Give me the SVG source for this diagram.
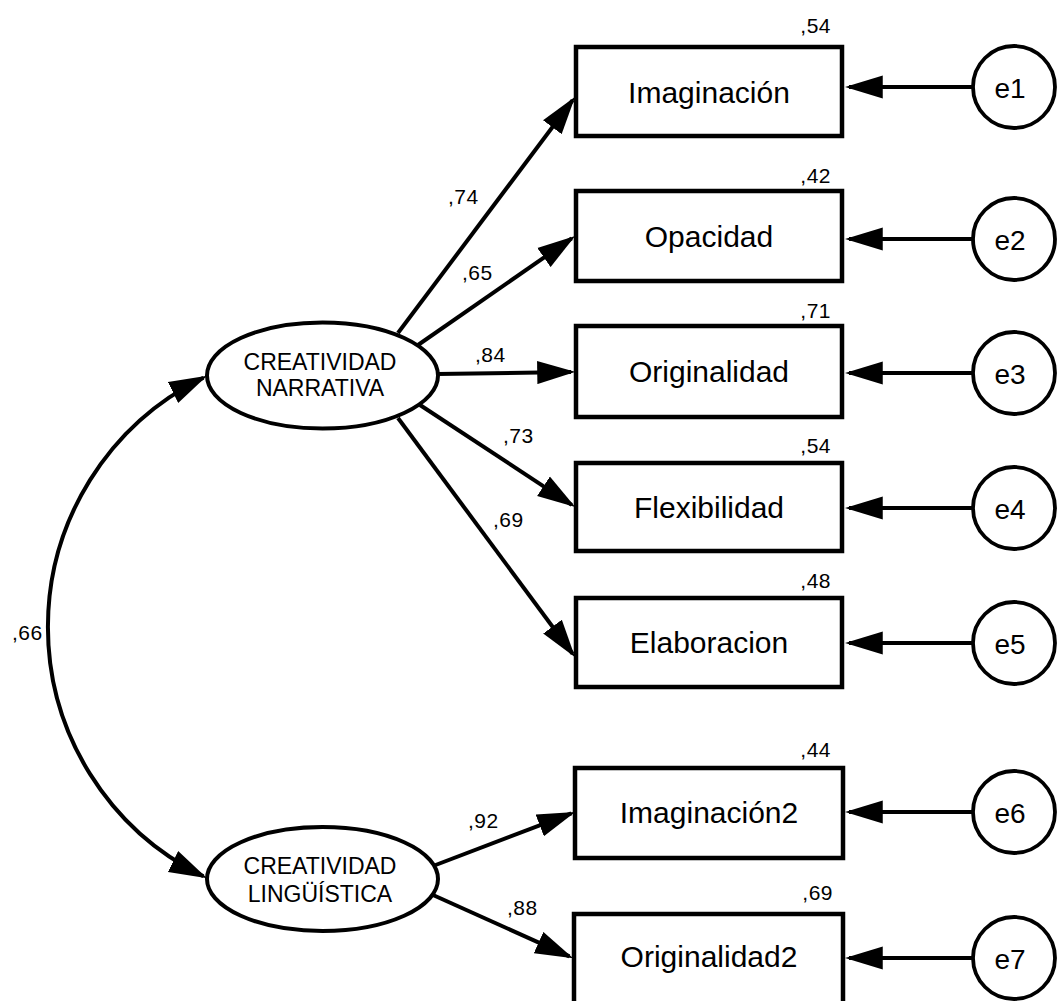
<svg xmlns="http://www.w3.org/2000/svg" width="1057" height="1001" viewBox="0 0 1057 1001">
  <style>
    .box { fill: #fff; stroke: #000; stroke-width: 4.5; }
    .lat { fill: #fff; stroke: #000; stroke-width: 4; }
    .err { fill: #fff; stroke: #000; stroke-width: 3.8; }
    .edge { fill: none; stroke: #000; stroke-width: 4; marker-end: url(#head); }
    .cov { fill: none; stroke: #000; stroke-width: 4; marker-start: url(#head); marker-end: url(#head); }
    text { font-family: "Liberation Sans", Arial, sans-serif; fill: #000; }
    .obs { font-size: 30px; text-anchor: middle; }
    .latt { font-size: 23px; text-anchor: middle; }
    .errt { font-size: 28px; text-anchor: middle; }
    .num { font-size: 21px; letter-spacing: 0.5px; }
    .r2 { font-size: 21px; letter-spacing: 0.5px; text-anchor: end; }
  </style>
  <defs>
    <marker id="head" markerUnits="userSpaceOnUse" markerWidth="38" markerHeight="24" viewBox="0 0 36 22" refX="32" refY="11" orient="auto-start-reverse">
      <path d="M0,0 L36,11 L0,22 z" fill="#000"/>
    </marker>
  </defs>
  <rect width="1057" height="1001" fill="#fff"/>

  <!-- paths, error arrows and covariance -->
  <g id="connectors">
    <path class="cov" d="M203.4,377.7 A277.6,277.6 0 0 0 203.4,876.3"/>
    <line class="edge" x1="398" y1="333" x2="572.6" y2="100.2"/>
    <line class="edge" x1="418" y1="345" x2="571.7" y2="238.3"/>
    <line class="edge" x1="437" y1="374" x2="571" y2="372"/>
    <line class="edge" x1="420" y1="405" x2="571.7" y2="504.8"/>
    <line class="edge" x1="398" y1="418" x2="572.6" y2="653.8"/>
    <line class="edge" x1="433" y1="866" x2="571.3" y2="813.4"/>
    <line class="edge" x1="433" y1="895" x2="569.4" y2="956.4"/>
    <line class="edge" x1="973" y1="87" x2="849" y2="87"/>
    <line class="edge" x1="973" y1="239" x2="849" y2="239"/>
    <line class="edge" x1="973" y1="373" x2="849" y2="373"/>
    <line class="edge" x1="973" y1="508" x2="849" y2="508"/>
    <line class="edge" x1="973" y1="643" x2="849" y2="643"/>
    <line class="edge" x1="973" y1="812" x2="849" y2="812"/>
    <line class="edge" x1="973" y1="958" x2="849" y2="958"/>
    <!-- coefficients -->
    <text class="num" x="448" y="204">,74</text>
    <text class="num" x="462" y="280">,65</text>
    <text class="num" x="475" y="362">,84</text>
    <text class="num" x="503" y="443">,73</text>
    <text class="num" x="493" y="527">,69</text>
    <text class="num" x="468" y="828">,92</text>
    <text class="num" x="507" y="915">,88</text>
    <text class="num" x="12" y="640">,66</text>
  </g>

  <!-- latent factors -->
  <g id="creatividad-narrativa">
    <ellipse class="lat" cx="322.5" cy="375.5" rx="115.5" ry="53"/>
    <text class="latt" x="320" y="370">CREATIVIDAD</text>
    <text class="latt" x="320" y="396">NARRATIVA</text>
  </g>
  <g id="creatividad-linguistica">
    <ellipse class="lat" cx="322.5" cy="879" rx="115.5" ry="52"/>
    <text class="latt" x="320" y="874">CREATIVIDAD</text>
    <text class="latt" x="320" y="902">LINGÜÍSTICA</text>
  </g>

  <!-- observed indicators -->
  <g id="imaginacion">
    <rect class="box" x="576" y="47" width="266" height="89"/>
    <text class="obs" x="709" y="103">Imaginación</text>
    <text class="r2" x="831" y="33">,54</text>
  </g>
  <g id="opacidad">
    <rect class="box" x="576" y="191" width="266" height="90"/>
    <text class="obs" x="709" y="247">Opacidad</text>
    <text class="r2" x="831" y="183">,42</text>
  </g>
  <g id="originalidad">
    <rect class="box" x="576" y="326" width="266" height="91"/>
    <text class="obs" x="709" y="382">Originalidad</text>
    <text class="r2" x="831" y="318">,71</text>
  </g>
  <g id="flexibilidad">
    <rect class="box" x="576" y="463" width="266" height="88"/>
    <text class="obs" x="709" y="518">Flexibilidad</text>
    <text class="r2" x="831" y="453">,54</text>
  </g>
  <g id="elaboracion">
    <rect class="box" x="576" y="598" width="266" height="89"/>
    <text class="obs" x="709" y="653">Elaboracion</text>
    <text class="r2" x="831" y="588">,48</text>
  </g>
  <g id="imaginacion2">
    <rect class="box" x="575" y="768" width="268" height="90"/>
    <text class="obs" x="709" y="823">Imaginación2</text>
    <text class="r2" x="831" y="757">,44</text>
  </g>
  <g id="originalidad2">
    <rect class="box" x="574" y="914" width="269" height="92"/>
    <text class="obs" x="709" y="967">Originalidad2</text>
    <text class="r2" x="833" y="900">,69</text>
  </g>

  <!-- error terms -->
  <g id="e1"><circle class="err" cx="1014" cy="87" r="41"/><text class="errt" x="1010" y="98">e1</text></g>
  <g id="e2"><circle class="err" cx="1014" cy="239" r="41"/><text class="errt" x="1010" y="250">e2</text></g>
  <g id="e3"><circle class="err" cx="1014" cy="373" r="41"/><text class="errt" x="1010" y="384">e3</text></g>
  <g id="e4"><circle class="err" cx="1014" cy="508" r="41"/><text class="errt" x="1010" y="519">e4</text></g>
  <g id="e5"><circle class="err" cx="1014" cy="643" r="41"/><text class="errt" x="1010" y="654">e5</text></g>
  <g id="e6"><circle class="err" cx="1014" cy="812" r="41"/><text class="errt" x="1010" y="823">e6</text></g>
  <g id="e7"><circle class="err" cx="1014" cy="958" r="41"/><text class="errt" x="1010" y="969">e7</text></g>
</svg>
